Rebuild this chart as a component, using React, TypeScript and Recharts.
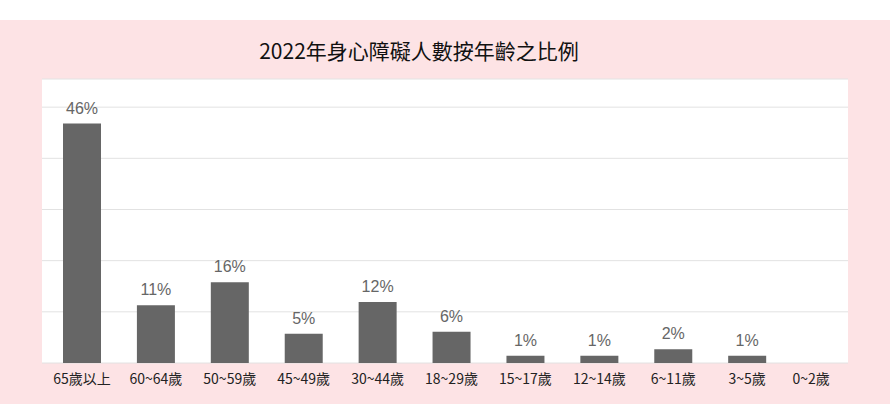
import React from 'react'
import { BarChart, Bar, XAxis, YAxis, CartesianGrid, LabelList } from 'recharts'

const ageGroups = ['65歲以上', '60~64歲', '50~59歲', '45~49歲', '30~44歲', '18~29歲', '15~17歲', '12~14歲', '6~11歲', '3~5歲', '0~2歲']
const shares = [46.8, 11.3, 15.8, 5.7, 11.9, 6.1, 1.4, 1.4, 2.7, 1.4, 0]
const shareLabels = ['46%', '11%', '16%', '5%', '12%', '6%', '1%', '1%', '2%', '1%', '']
const yTicks = [0, 10, 20, 30, 40, 50]

const data = ageGroups.map((age, i) => ({ age, share: shares[i], label: shareLabels[i] }))

// last label sits a bit inside the plot edge in the original
function AgeTick(props: any) {
  const { x, y, payload, index } = props
  const dx = index === ageGroups.length - 1 ? -10 : 0
  return (
    <text
      x={x + dx}
      y={y}
      dy="0.71em"
      textAnchor="middle"
      fontSize={14}
      fill="#222"
      fontFamily='"Noto Sans CJK TC", sans-serif'
    >
      {payload.value}
    </text>
  )
}

export default function App() {
  return (
    <div style={{ position: 'absolute', left: 0, top: 0, width: 890, height: 404, background: '#fff' }}>
      <div style={{ position: 'absolute', left: 0, top: 20, width: 890, height: 384, background: '#fde3e5' }}>
        <div
          style={{
            position: 'absolute',
            left: 0,
            width: 838,
            top: 15,
            textAlign: 'center',
            fontFamily: '"Noto Sans CJK TC", sans-serif',
            fontSize: 21,
            lineHeight: '30px',
            color: '#111',
          }}
        >
          2022年身心障礙人數按年齡之比例
        </div>
        <BarChart width={890} height={384} data={data} margin={{ top: 59, right: 42, left: 42, bottom: 11 }}>
          <CartesianGrid vertical={false} stroke="#e2e2e2" fill="#fff" />
          <XAxis
            dataKey="age"
            height={30}
            axisLine={false}
            tickLine={false}
            tickSize={0}
            tickMargin={11}
            interval={0}
            padding={{ left: 3, right: -10 }}
            tick={<AgeTick />}
          />
          <YAxis hide domain={[0, 55.5]} ticks={yTicks} />
          <Bar dataKey="share" fill="#666666" barSize={38} isAnimationActive={false}>
            <LabelList
              dataKey="label"
              position="top"
              offset={10}
              style={{ fontSize: 16, fill: '#666', fontFamily: '"Liberation Sans", Arial, sans-serif' }}
            />
          </Bar>
        </BarChart>
      </div>
    </div>
  )
}
